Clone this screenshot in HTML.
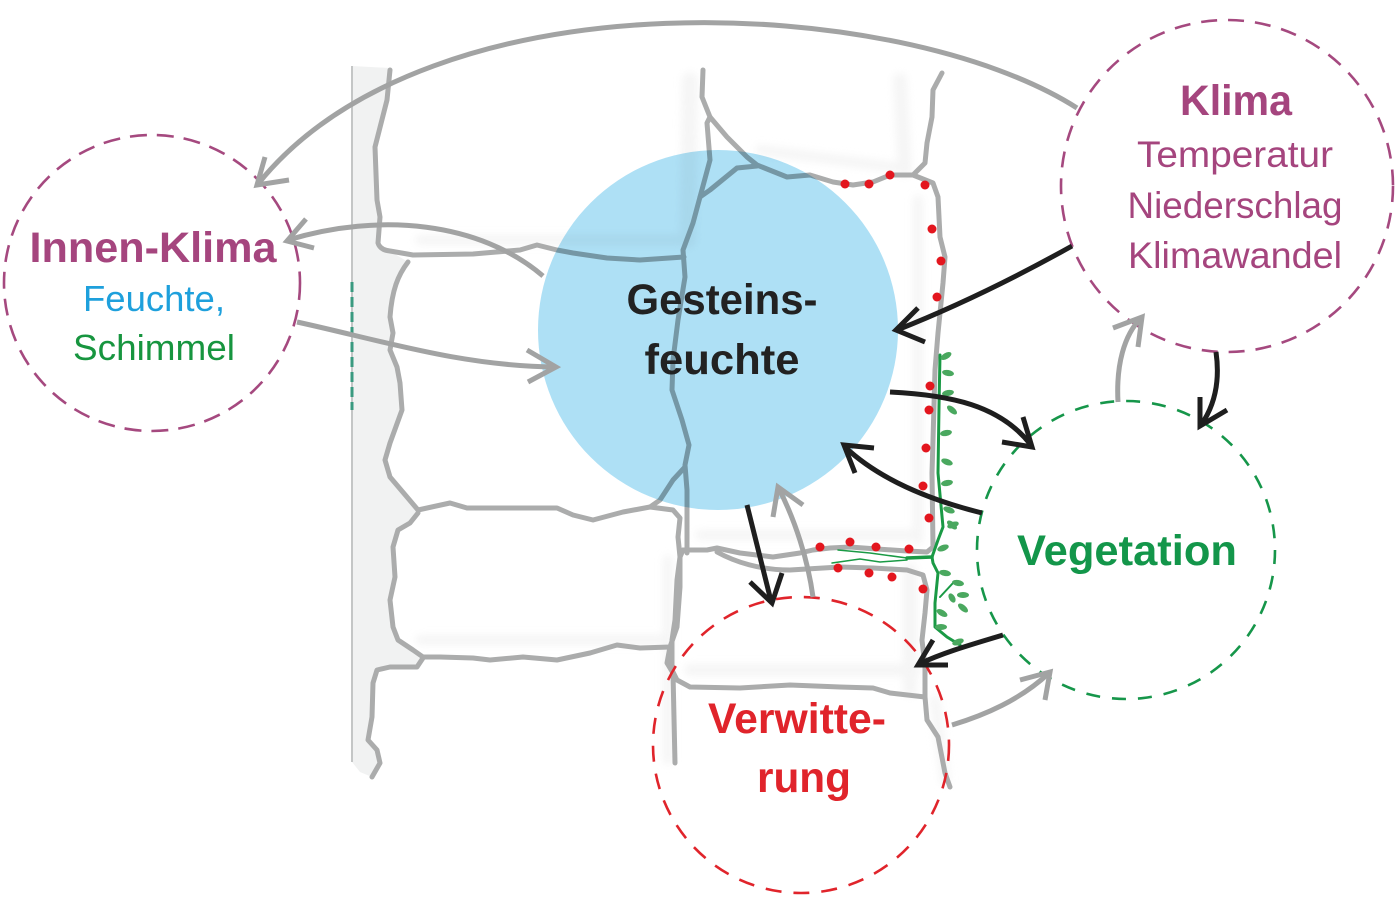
<!DOCTYPE html>
<html>
<head>
<meta charset="utf-8">
<style>
html,body{margin:0;padding:0;background:#fff;}
svg{display:block;}
text{font-family:"Liberation Sans","DejaVu Sans",sans-serif;}
</style>
</head>
<body>
<svg width="1396" height="898" viewBox="0 0 1396 898" xmlns="http://www.w3.org/2000/svg">
<defs>
<filter id="blur" x="-20%" y="-20%" width="140%" height="140%"><feGaussianBlur stdDeviation="4"/></filter>
</defs>
<rect width="1396" height="898" fill="#fff"/>

<!-- left light band -->
<path d="M352,66 L390,68 L387,100 L375,147 L377,200 L380,217 L378,243 L390,251 L408,262 L395,283 L390,317 L393,333 L390,350 L400,383 L402,400 L390,443 L385,460 L390,477 L407,497 L418,510 L410,523 L398,530 L393,547 L395,577 L390,600 L393,627 L398,640 L413,650 L423,657 L417,667 L390,667 L377,670 L373,683 L372,717 L368,740 L377,750 L380,763 L372,777 L360,772 L352,762 Z" fill="#f1f2f2"/>
<line x1="352" y1="66" x2="352" y2="762" stroke="#c4c6c6" stroke-width="2"/>

<!-- faint pencil shading -->
<g stroke="#efefef" fill="none" stroke-linecap="round" filter="url(#blur)" opacity="0.6">
<path d="M690,80 L688,240" stroke-width="16"/>
<path d="M900,80 L905,170" stroke-width="14"/>
<path d="M760,150 L900,168" stroke-width="10"/>
<path d="M420,240 L680,240" stroke-width="10"/>
<path d="M420,640 L665,640" stroke-width="10"/>
<path d="M700,535 L915,535" stroke-width="10"/>
<path d="M910,570 L910,690" stroke-width="14"/>
<path d="M690,670 L915,670" stroke-width="12"/>
<path d="M668,560 L668,760" stroke-width="10"/>
<path d="M935,700 L945,780" stroke-width="10"/>
<path d="M918,200 L918,540" stroke-width="10"/>
</g>

<!-- stone outlines -->
<g fill="none" stroke="#abacac" stroke-width="5" stroke-linecap="round" stroke-linejoin="round">
<path d="M390,70 L387,100 L375,147 L377,200 L380,217 L378,243 Q380,250 390,251 L413,255 L473,254 L520,250 L537,245 L557,250 L573,253 L607,258 L640,260 L684,257"/>
<path d="M408,262 C398,275 392,290 390,317 L393,333 L390,350 L397,367 L400,383 L402,410 L390,443 L385,460 L390,477 L407,497 L418,510"/>
<path d="M418,510 L450,503 L467,508 L557,508 L573,515 L593,520 L623,512 L650,507 L673,510 L680,518 L678,537 L680,557 L680,587 L677,627 L670,647 L640,648 L617,645 L590,653 L557,660 L523,657 L490,660 L473,658 L440,657 L423,657 L413,650 L398,640 L393,627 L390,600 L395,577 L393,547 L398,530 L410,523 L418,513"/>
<path d="M423,658 L417,667 L390,667 L377,670 L373,683 L372,717 L368,740 L377,750 L380,763 L372,777"/>
<path d="M703,70 L702,97 L710,117 L707,123 L710,160 L700,197 L693,223 L683,250 L685,277 L678,320 L673,360 L672,390 L682,420 L689,445 L685,465 L687,490 L687,553"/>
<path d="M685,467 L673,480 L660,500 L650,507"/>
<path d="M710,117 L727,137 L747,157 L757,165 L787,177 L810,175 L833,182 L853,185 L873,182 L890,175 L913,175 L933,183 L938,197 L940,237 L945,257 L943,283 L938,333 L935,370 L933,440 L932,473 L933,547 L927,552 L907,551 L877,549 L850,547 L830,548 L813,550 L800,553 L773,557 L740,553 L717,548 L707,550 L683,550"/>
<path d="M942,73 L933,90 L932,117 L927,143 L925,163 L913,175"/>
<path d="M757,166 L737,168 L710,190 L700,197"/>
<path d="M717,552 C735,562 760,570 790,570 L840,567 L873,568 L907,570 L923,575 L927,590 L925,613 L922,640 L925,667 L925,697 L890,693 L873,688 L840,687 L790,685 L740,688 L690,687 L677,680 L672,670 L672,640 L675,620 L677,580 L680,557 L683,550"/>
<path d="M673,673 L675,763"/>
<path d="M670,647 L667,663 L673,673"/>
<path d="M925,697 L927,720 L938,737 L945,773 L950,787"/>
</g>

<!-- Gesteinsfeuchte blue circle -->
<ellipse cx="718" cy="330" rx="180" ry="180" fill="#aee0f5" style="mix-blend-mode:multiply"/>

<!-- teal dashed line -->
<line x1="352" y1="282" x2="352" y2="410" stroke="#3a9a80" stroke-width="3" stroke-dasharray="10 5"/>

<!-- vine -->
<g fill="none" stroke="#1a9a45" stroke-linecap="round" stroke-linejoin="round">
<path d="M940,355 L939,407 L938,473 L943,527 L938,540 L932,557 L933,563 L938,573 L935,603 L935,627 L947,637 L960,645" stroke-width="3"/>
<path d="M940,597 L953,583" stroke-width="2"/>
<path d="M932,557 L907,558" stroke-width="3.5"/>
<path d="M907,558 L870,553 L838,550" stroke-width="1.5"/>
<path d="M907,560 L880,562 L860,559 L832,563" stroke-width="1.5"/>
</g>
<g fill="#4aa85f">
<ellipse cx="946" cy="356" rx="6" ry="3" transform="rotate(-30 946 356)"/>
<ellipse cx="948" cy="373" rx="6" ry="3" transform="rotate(10 948 373)"/>
<ellipse cx="948" cy="393" rx="6" ry="3" transform="rotate(-10 948 393)"/>
<ellipse cx="952" cy="410" rx="6" ry="3" transform="rotate(40 952 410)"/>
<ellipse cx="946" cy="433" rx="6" ry="3" transform="rotate(-10 946 433)"/>
<ellipse cx="947" cy="462" rx="6" ry="3" transform="rotate(20 947 462)"/>
<ellipse cx="947" cy="483" rx="6" ry="3" transform="rotate(-10 947 483)"/>
<ellipse cx="949" cy="510" rx="6" ry="3" transform="rotate(20 949 510)"/>
<ellipse cx="952" cy="525" rx="6" ry="3" transform="rotate(40 952 525)"/>
<ellipse cx="953" cy="525" rx="6" ry="3" transform="rotate(-20 953 525)"/>
<ellipse cx="943" cy="548" rx="6" ry="3" transform="rotate(-20 943 548)"/>
<ellipse cx="945" cy="573" rx="6" ry="3" transform="rotate(10 945 573)"/>
<ellipse cx="958" cy="583" rx="6" ry="3" transform="rotate(10 958 583)"/>
<ellipse cx="963" cy="595" rx="6" ry="3" transform="rotate(0 963 595)"/>
<ellipse cx="963" cy="608" rx="6" ry="3" transform="rotate(40 963 608)"/>
<ellipse cx="952" cy="598" rx="5" ry="3" transform="rotate(60 952 598)"/>
<ellipse cx="942" cy="613" rx="6" ry="3" transform="rotate(30 942 613)"/>
<ellipse cx="941" cy="627" rx="6" ry="3" transform="rotate(0 941 627)"/>
<ellipse cx="958" cy="642" rx="6" ry="3" transform="rotate(-20 958 642)"/>
</g>

<!-- red dots -->
<g fill="#e3161e">
<circle cx="845" cy="184" r="4.5"/><circle cx="869" cy="184" r="4.5"/><circle cx="890" cy="175" r="4.5"/>
<circle cx="925" cy="185" r="4.5"/><circle cx="932" cy="229" r="4.5"/><circle cx="941" cy="261" r="4.5"/>
<circle cx="937" cy="297" r="4.5"/><circle cx="930" cy="386" r="4.5"/><circle cx="929" cy="410" r="4.5"/>
<circle cx="926" cy="448" r="4.5"/><circle cx="923" cy="486" r="4.5"/><circle cx="929" cy="518" r="4.5"/>
<circle cx="820" cy="547" r="4.5"/><circle cx="850" cy="542" r="4.5"/><circle cx="876" cy="547" r="4.5"/>
<circle cx="909" cy="549" r="4.5"/><circle cx="838" cy="568" r="4.5"/><circle cx="869" cy="573" r="4.5"/>
<circle cx="892" cy="577" r="4.5"/><circle cx="923" cy="589" r="4.5"/>
</g>

<!-- dashed circles -->
<circle cx="152" cy="283" r="148" fill="none" stroke="#a5497f" stroke-width="2.6" stroke-dasharray="17 10"/>
<circle cx="1227" cy="186" r="166" fill="none" stroke="#a5497f" stroke-width="2.6" stroke-dasharray="16 11"/>
<circle cx="1126" cy="550" r="149" fill="none" stroke="#16964a" stroke-width="2.6" stroke-dasharray="14 12"/>
<circle cx="801" cy="745" r="148" fill="none" stroke="#e0242b" stroke-width="2.6" stroke-dasharray="16 12"/>

<!-- gray arrows -->
<g fill="none" stroke="#a2a3a3" stroke-width="5" stroke-linecap="butt" stroke-linejoin="miter">
<path d="M1077,108 C900,-5 430,-30 258,184"/>
<polyline points="265,157 257,185 289,180"/>
<path d="M543,276 C480,222 380,212 288,240"/>
<polyline points="306,219 287,241 314,248"/>
<path d="M297,322 C380,340 460,366 555,367"/>
<polyline points="527,350 556,367 528,382"/>
<path d="M1118,402 C1116,365 1124,335 1141,318"/>
<polyline points="1113,328 1142,317 1138,347"/>
<path d="M813,597 C808,560 795,520 779,489"/>
<polyline points="773,517 778,487 803,505"/>
<path d="M952,725 C985,715 1020,700 1049,673"/>
<polyline points="1020,680 1050,672 1045,700"/>
</g>

<!-- black arrows -->
<g fill="none" stroke="#1e1e1e" stroke-width="5" stroke-linecap="butt" stroke-linejoin="miter">
<path d="M1072,246 C1020,275 960,305 897,330"/>
<polyline points="918,308 896,330 925,342"/>
<path d="M890,392 C950,395 1000,405 1031,445"/>
<polyline points="1002,442 1032,447 1023,417"/>
<path d="M982,513 C930,500 880,480 845,447"/>
<polyline points="874,448 844,445 855,473"/>
<path d="M1216,352 C1220,380 1215,405 1201,425"/>
<polyline points="1200,397 1200,426 1227,410"/>
<path d="M747,505 L771,601"/>
<polyline points="750,582 772,603 782,573"/>
<path d="M1003,635 C970,645 945,652 919,664"/>
<polyline points="933,640 918,665 948,665"/>
</g>

<!-- texts -->
<text x="153" y="262" font-size="43" font-weight="bold" fill="#a5457e" text-anchor="middle" textLength="247" lengthAdjust="spacingAndGlyphs">Innen-Klima</text>
<text x="154" y="311" font-size="36" fill="#1ea0dc" text-anchor="middle" textLength="142" lengthAdjust="spacingAndGlyphs">Feuchte,</text>
<text x="154" y="360" font-size="36" fill="#17953f" text-anchor="middle" textLength="162" lengthAdjust="spacingAndGlyphs">Schimmel</text>

<text x="1236" y="115" font-size="43" font-weight="bold" fill="#a5457e" text-anchor="middle" textLength="112" lengthAdjust="spacingAndGlyphs">Klima</text>
<text x="1235" y="167" font-size="37" fill="#a5457e" text-anchor="middle" textLength="196" lengthAdjust="spacingAndGlyphs">Temperatur</text>
<text x="1235" y="218" font-size="37" fill="#a5457e" text-anchor="middle" textLength="215" lengthAdjust="spacingAndGlyphs">Niederschlag</text>
<text x="1235" y="268" font-size="37" fill="#a5457e" text-anchor="middle" textLength="214" lengthAdjust="spacingAndGlyphs">Klimawandel</text>

<text x="722" y="314" font-size="43" font-weight="bold" fill="#222" text-anchor="middle" textLength="191" lengthAdjust="spacingAndGlyphs">Gesteins-</text>
<text x="722" y="374" font-size="43" font-weight="bold" fill="#222" text-anchor="middle" textLength="155" lengthAdjust="spacingAndGlyphs">feuchte</text>

<text x="1127" y="565" font-size="43" font-weight="bold" fill="#13964a" text-anchor="middle" textLength="220" lengthAdjust="spacingAndGlyphs">Vegetation</text>

<text x="797" y="733" font-size="43" font-weight="bold" fill="#e0242b" text-anchor="middle" textLength="178" lengthAdjust="spacingAndGlyphs">Verwitte-</text>
<text x="804" y="792" font-size="43" font-weight="bold" fill="#e0242b" text-anchor="middle" textLength="94" lengthAdjust="spacingAndGlyphs">rung</text>
</svg>
</body>
</html>
